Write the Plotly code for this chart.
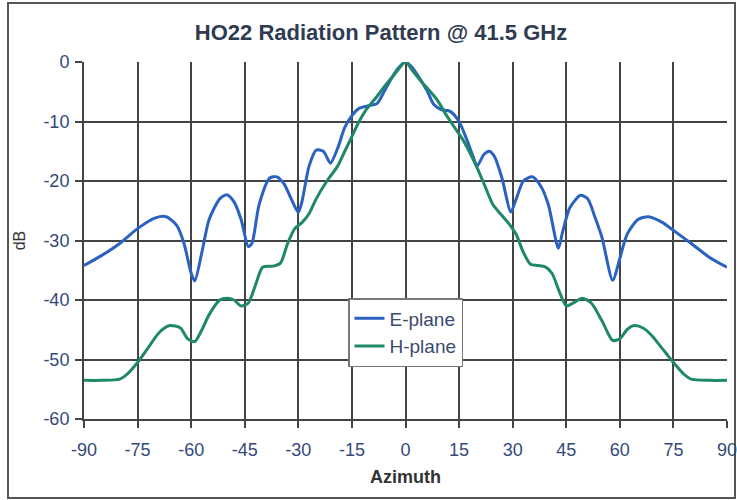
import plotly.graph_objects as go

# ---- data ----
e_az = [-90, -85, -80, -75, -70, -67, -64, -62, -60, -59, -57, -55, -52, -50, -48, -46, -44, -43,
        -41, -38, -36, -34, -32, -30, -29, -27, -25, -23, -21, -19, -17, -15, -13, -10, -8, -6,
        -4, -2, 0, 2, 4, 6, 8, 10, 12.5, 15, 17, 19, 20, 22, 23.5, 25, 27, 29.5, 31, 33, 35.5,
        38, 40, 42.8, 44, 46, 49, 51, 53, 55, 58, 60, 62, 65, 68, 72, 75, 80, 85, 90]
e_db = [-34.2, -32.5, -30.5, -28, -26.2, -26, -27.5, -30.5, -35.5, -36.8, -32, -26.5, -23, -22.3,
        -23.5, -26.5, -31, -30.5, -24, -19.5, -19.3, -20.5, -23, -25.3, -23.5, -17.5, -14.8, -15,
        -17, -14.5, -11, -9, -7.8, -7.3, -7, -5, -2.8, -1, 0, -1, -2.8, -4.8, -7.2, -8, -8.3, -10,
        -12.8, -16, -17.5, -15.5, -15, -16, -19.5, -25.2, -23, -20, -19.3, -21, -24, -31.3, -28.5,
        -24.5, -22.4, -23, -26, -29.5, -36.7, -33, -29, -26.5, -26, -27, -28.3, -30.5, -32.8, -34.5]

h_az = [-90, -85, -80, -78, -75, -72, -69, -66, -63, -61, -59, -57, -55, -52, -50, -48, -46, -44,
        -42, -40, -37, -35, -33, -31, -29, -27, -25, -22, -19, -17, -15, -13, -11, -8, -6, -3, 0,
        2, 4, 7, 9, 11, 13.5, 16, 18, 20, 22, 24.5, 27, 29, 31, 33, 35, 37, 39, 41, 43, 45, 47,
        49.5, 52, 55, 58, 60, 62, 64, 66.5, 69, 71, 73, 75, 78, 80, 85, 90]
h_db = [-53.5, -53.5, -53.3, -52.5, -50.5, -48, -45.5, -44.3, -44.7, -46.5, -47, -45, -42.5, -40,
        -39.7, -40, -41, -40.5, -37.5, -34.5, -34.3, -33.8, -30.5, -28, -27, -25.5, -23, -20,
        -17.5, -15, -12.5, -10, -8, -5.8, -4.2, -2, 0, -1.5, -3, -5, -6.5, -8.5, -10.8, -13,
        -15.2, -17.7, -20.5, -24, -25.8, -27.2, -29, -32, -34, -34.2, -34.4, -35.5, -38.5, -41,
        -40.5, -39.7, -40.5, -43.5, -46.8, -46.5, -45, -44.3, -44.7, -46, -47.5, -49, -50.5,
        -52.5, -53.3, -53.5, -53.5]

x_ticks = [-90, -75, -60, -45, -30, -15, 0, 15, 30, 45, 60, 75, 90]
y_ticks = [0, -10, -20, -30, -40, -50, -60]

title_text = "HO22 Radiation Pattern @ 41.5 GHz"

FONT = "Liberation Sans, Arial, sans-serif"
TICKC = "#34497a"

L, R, T, B = 84, 727, 62, 419
W, H = 737, 500
pw, ph = R - L, B - T

fig = go.Figure()
fig.add_trace(go.Scatter(x=e_az, y=e_db, name="E-plane", mode="lines",
                         line=dict(color="#2a62c2", width=3, shape="spline", smoothing=0.7)))
fig.add_trace(go.Scatter(x=h_az, y=h_db, name="H-plane", mode="lines",
                         line=dict(color="#1f8868", width=3, shape="spline", smoothing=0.7)))

fig.update_layout(
    width=W, height=H,
    margin=dict(l=L, r=W - R, t=T, b=H - B, autoexpand=False),
    paper_bgcolor="white", plot_bgcolor="white",
    font=dict(family=FONT, size=17, color=TICKC),
    showlegend=True,
    legend=dict(x=(348 - L) / pw, y=(B - 298) / ph, xanchor="left", yanchor="top",
                bgcolor="white", bordercolor="#777", borderwidth=1.5,
                font=dict(family=FONT, size=19, color="#3a4a70"),
                itemwidth=30, tracegroupgap=0),
    xaxis=dict(range=[-90, 90], tickvals=x_ticks, ticktext=[str(v) for v in x_ticks],
               automargin=False, ticklabeloverflow="allow", ticklabelstandoff=6,
               showgrid=True, gridcolor="#444", gridwidth=2,
               zeroline=False, showline=True, linecolor="#444", linewidth=2, mirror=False,
               ticks="outside", ticklen=7, tickwidth=2, tickcolor="#444",
               tickfont=dict(family=FONT, size=18, color=TICKC),
               title=dict(text="<b>Azimuth</b>", font=dict(family=FONT, size=18, color="#333"),
                          standoff=12)),
    yaxis=dict(range=[-60, 0], tickvals=y_ticks, ticktext=[str(v) for v in y_ticks],
               automargin=False, ticklabeloverflow="allow", ticklabelstandoff=2,
               showgrid=True, gridcolor="#444", gridwidth=2,
               zeroline=False, showline=True, linecolor="#444", linewidth=2,
               ticks="outside", ticklen=7, tickwidth=2, tickcolor="#444",
               tickfont=dict(family=FONT, size=18, color=TICKC),
               title=dict(text="dB", font=dict(family=FONT, size=16, color="#333"), standoff=14)),
    title=dict(text="<b>" + title_text + "</b>", x=381 / W, xanchor="center",
               y=1 - 32 / H, yanchor="middle",
               font=dict(family=FONT, size=22, color="#2f3b52")),
)

# outer frame of the chart
fig.add_shape(type="rect", xref="paper", yref="paper",
              x0=(8 - L) / pw, x1=(735 - L) / pw,
              y0=-(498 - B) / ph, y1=1 + (T - 3) / ph,
              line=dict(color="#555", width=2), layer="below")

fig.write_html("out.html", config={"displayModeBar": False},
               post_script="document.body.style.margin='0';document.body.style.overflow='hidden';")
